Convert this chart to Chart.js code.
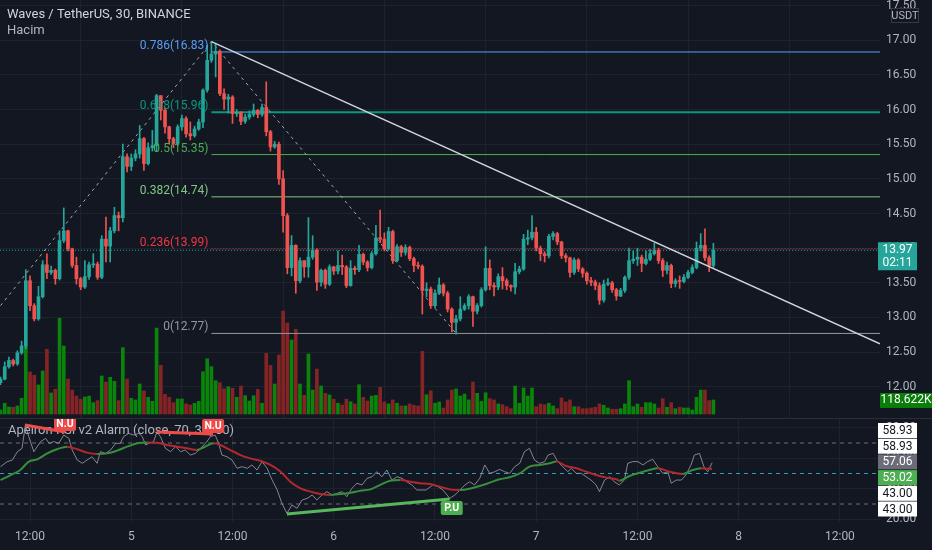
<!DOCTYPE html>
<html>
<head>
<meta charset="utf-8">
<script src="https://cdn.jsdelivr.net/npm/chart.js@4.4.0/dist/chart.umd.min.js"></script>
<style>
  html, body { margin: 0; padding: 0; background: #131722; }
  #wrap { position: relative; width: 932px; height: 550px; overflow: hidden; background: #131722; }
  #priceCanvas { position: absolute; left: 0; top: 0; }
  #rsiCanvas { position: absolute; left: 0; top: 418px; }
</style>
</head>
<body>
<div id="wrap">
  <canvas id="priceCanvas" width="932" height="418"></canvas>
  <canvas id="rsiCanvas" width="932" height="132"></canvas>
</div>
<script>
// 30 min candles, index 0 = 08:30 on the 4th
const firstOpen = 12.06;
const closes = [
  12.11,12.29,12.38,12.33,12.49,12.59,13.53,13.17,12.98,13.30,
  13.76,13.65,13.68,13.56,14.11,14.25,13.99,13.75,13.56,13.44,
  13.59,13.76,13.77,13.58,14.13,14.03,14.25,14.47,14.44,15.32,
  15.18,15.30,15.36,15.58,15.22,15.45,15.48,16.20,15.99,15.75,
  15.58,15.51,15.75,15.87,15.65,15.62,15.72,15.82,16.28,16.71,
  16.80,16.84,16.23,16.15,16.18,15.94,15.96,15.83,15.89,15.93,
  15.99,15.93,16.03,15.68,15.46,15.50,15.00,14.47,13.72,14.04,
  13.53,13.82,13.73,13.87,13.97,13.51,13.68,13.48,13.73,13.67,
  13.75,13.73,13.46,13.71,13.69,13.91,13.80,13.72,13.92,14.15,
  14.13,13.99,14.24,13.82,14.02,13.94,14.01,13.85,13.75,13.74,
  13.39,13.41,13.17,13.35,13.47,13.35,13.12,12.93,12.98,13.12,
  13.17,13.30,13.09,13.17,13.40,13.71,13.46,13.44,13.59,13.53,
  13.46,13.44,13.66,13.70,14.13,14.15,14.23,14.00,13.92,13.89,
  14.17,14.21,14.09,13.89,13.86,13.65,13.83,13.70,13.64,13.53,
  13.51,13.46,13.25,13.48,13.50,13.40,13.31,13.39,13.58,13.82,
  13.84,13.87,13.78,13.84,13.92,13.97,13.82,13.68,13.75,13.49,
  13.53,13.52,13.58,13.65,13.72,14.00,14.04,13.86,13.75,13.97
];
const highs = [
  12.14,12.36,12.43,12.40,12.52,12.66,13.69,13.60,13.20,13.45,
  13.82,13.92,13.74,13.70,14.25,14.58,14.26,14.00,13.87,13.58,
  13.82,13.80,13.92,13.80,14.18,14.45,14.30,14.59,14.52,15.50,
  15.36,15.36,15.42,15.77,15.60,15.52,15.70,16.22,16.20,16.02,
  15.76,15.60,15.78,15.92,15.90,15.82,15.76,15.86,16.30,16.93,
  16.98,16.95,16.86,16.30,16.22,16.20,16.00,15.97,15.93,15.98,
  16.08,16.00,16.08,16.40,15.70,15.54,15.53,15.12,14.50,14.18,
  14.05,13.86,13.80,14.44,14.18,13.99,13.70,13.70,13.76,13.74,
  13.96,13.90,13.75,13.82,13.74,14.04,13.93,13.82,13.95,14.33,
  14.55,14.22,14.30,14.26,14.05,14.04,14.05,14.03,13.87,13.80,
  13.76,13.50,13.44,13.40,13.57,13.49,13.38,13.14,13.03,13.30,
  13.20,13.33,13.31,13.20,13.43,14.02,13.83,13.50,13.63,13.72,
  13.56,13.47,13.78,13.74,14.20,14.26,14.47,14.30,14.03,13.95,
  14.20,14.24,14.23,14.10,13.92,13.87,13.86,13.85,13.72,13.66,
  13.58,13.54,13.50,13.54,13.56,13.52,13.42,13.42,13.60,14.00,
  13.96,14.00,13.90,13.96,13.98,14.07,14.00,13.85,13.80,13.77,
  13.56,13.60,13.62,13.68,13.76,14.09,14.21,14.28,13.89,14.07
];
const lows = [
  12.03,12.10,12.27,12.30,12.31,12.47,12.55,13.10,12.95,12.96,
  13.28,13.56,13.62,13.48,13.54,14.08,13.96,13.72,13.48,13.40,
  13.42,13.55,13.72,13.55,13.56,13.80,13.80,14.22,14.25,14.38,
  15.10,15.12,15.26,15.30,15.12,15.20,15.40,15.40,15.85,15.66,
  15.50,15.45,15.48,15.70,15.60,15.56,15.60,15.70,15.74,16.25,
  16.68,16.47,16.20,16.00,15.95,15.80,15.90,15.78,15.80,15.86,
  15.90,15.88,15.90,15.62,15.40,15.44,14.92,14.23,13.63,13.60,
  13.35,13.50,13.58,13.58,13.84,13.39,13.45,13.42,13.46,13.62,
  13.63,13.62,13.43,13.45,13.62,13.66,13.76,13.67,13.70,13.90,
  14.08,13.96,13.97,13.78,13.80,13.88,13.90,13.82,13.66,13.70,
  13.05,13.30,13.13,13.14,13.33,13.31,13.08,12.79,12.76,12.95,
  13.10,13.12,12.87,13.05,13.15,13.38,13.40,13.31,13.40,13.41,
  13.40,13.38,13.34,13.63,13.68,14.05,14.12,13.96,13.82,13.80,
  13.86,14.12,14.05,13.85,13.80,13.58,13.62,13.66,13.58,13.48,
  13.46,13.40,13.19,13.22,13.46,13.36,13.25,13.30,13.36,13.55,
  13.78,13.75,13.66,13.76,13.82,13.90,13.78,13.59,13.63,13.43,
  13.44,13.42,13.50,13.56,13.63,13.70,13.96,13.82,13.66,13.72
];
// volume in thousands
const volumes = [
  34,91,59,57,68,133,576,356,328,246,
  364,548,178,209,811,576,296,203,152,125,
  144,152,96,113,322,271,311,277,113,562,
  296,133,119,254,195,141,108,728,412,167,
  141,96,127,127,85,76,91,108,358,468,
  401,282,265,214,231,218,141,237,155,110,
  155,209,91,514,411,254,500,872,771,627,
  717,254,158,508,203,381,237,175,161,125,
  91,76,125,104,85,248,141,110,152,158,
  226,102,85,119,91,68,68,85,74,68,
  531,163,197,91,102,51,119,203,212,152,
  169,119,271,175,108,180,130,119,85,79,
  62,45,237,91,220,152,220,62,85,79,
  91,68,45,136,102,119,62,62,45,45,
  51,57,85,74,51,40,40,45,85,282,
  62,85,57,96,96,85,51,130,57,96,
  45,57,51,51,34,141,203,203,113,118.622
];

const xTickIdx = [7, 31, 55, 79, 103, 127, 151, 175, 199];
const xTickLabels = ['12:00', '5', '12:00', '6', '12:00', '7', '12:00', '8', '12:00'];
const priceTicks = [12, 12.5, 13, 13.5, 14, 14.5, 15, 15.5, 16, 16.5, 17, 17.5];
const rsiTicks = [20, 40, 60, 80];

// fibonacci retracement drawing
const fibStart = 50;
const fibLevels = [0.786, 0.618, 0.5, 0.382, 0.236, 0];
const fibPrices = [16.83, 15.96, 15.35, 14.74, 13.99, 12.77];
const fibColors = ['#5b9cf6', '#089981', '#4caf50', '#81c784', '#f23645', '#9598a1'];
const zigIdx = [0, 50, 108];
const zigPrice = [13.17, 16.98, 12.77];
// trend line
const trendIdx = [50, 208.5];
const trendPrice = [16.98, 12.62];

// RSI pane
const rsiIdx = [0,1.6,2.8,4,5.1,5.9,6.7,7.9,8.7,9.5,10.7,11.5,12.6,13.8,15,16.2,17,18.2,19.4,20.5,
  21.7,22.9,23.7,24.9,26.1,27.3,28.4,29.2,30.4,31.6,32.8,33.6,34.4,35.2,36.3,37.1,37.9,39.1,40.3,41.5,
  42.7,43.8,45,46.2,47.4,48.6,49.8,50.9,51.7,52.5,53.7,54.9,56.1,57.3,58.5,59.6,60.8,62,63.2,64.4,
  65.6,66.7,67.9,69.1,70.3,71.5,72.7,73.9,75,76.2,77.4,78.6,79.8,81,82.1,83.3,84.5,85.7,86.9,88.1,
  89.2,90.4,91.6,92.8,94,95.2,96.3,97.5,98.7,100.9,102.5,103.7,104.9,106.5,107.7,108.9,110.1,111.2,112.4,113.6,
  114.8,116,117.2,118.3,119.5,120.7,121.9,123.1,124.2,125.4,126.6,127.8,129,129.8,131,132.1,133.3,134.5,135.3,136.5,
  137.7,138.8,140,141.2,142,143.2,144.4,145.5,146.7,147.9,148.7,149.9,151.1,152.3,153.4,154.6,155.8,157,158.2,159,
  160.2,161.4,162.5,163.7,164.5,165.7,166.9,167.7,168.7];
const rsiVal = [54.5,57.8,58.8,64.3,66.5,81.8,74.2,64.3,67.6,70.9,73.1,69.8,70.9,69.8,75.2,73.1,65.4,58.8,56.7,58.8,
  61.0,56.7,64.3,63.2,65.4,69.8,69.8,74.2,76.3,75.2,76.3,74.2,68.7,69.8,70.9,77.4,74.2,66.5,64.3,67.6,
  64.3,65.4,62.1,63.2,66.5,69.8,74.2,75.2,69.8,62.1,61.0,58.8,53.4,54.5,53.4,55.6,52.3,57.8,53.4,45.7,
  39.2,30.4,23.9,29.3,27.2,32.6,33.7,35.9,32.6,35.9,38.1,35.9,37.0,38.1,34.8,40.3,43.6,42.5,46.8,47.9,
  51.2,47.9,52.3,45.7,47.9,46.8,44.6,42.5,39.2,39.2,42.5,41.4,39.2,33.7,35.9,39.2,42.5,44.6,42.5,46.8,
  55.6,50.1,51.2,52.7,51.2,50.1,54.5,56.7,64.3,66.5,58.8,56.7,57.8,62.1,63.2,57.8,54.5,51.2,53.4,50.1,
  50.1,47.9,45.7,42.5,38.1,45.7,47.9,44.6,42.5,45.7,56.7,57.8,57.8,55.6,57.8,59.3,54.5,50.1,51.2,43.6,
  45.7,45.7,49.0,55.6,62.1,63.2,53.4,51.2,57.1];
const maIdx = [0,2.4,4.7,6.7,8.7,11.1,13.4,15.8,18.2,20.5,22.9,25.3,27.6,30,32.4,34.8,37.1,39.5,41.9,44.2,
  46.6,48.2,50.6,52.1,54.5,56.9,59.2,61.6,64,66.4,68.7,71.1,73.5,75.8,78.2,80.6,83,85.3,87.7,90,
  92.4,94.8,97.2,99.4,101.8,104.2,106.5,108.9,111.2,113.6,116,118.3,120.7,123.1,125.4,127.8,130.2,131.8,134.1,136.5,
  138.8,141.2,143.6,146,146.7,149.1,151.5,153.8,155.8,158.6,161.7,164.1,166.1,167.3,168.7];
const maVal = [45.7,49.0,52.3,57.8,59.3,63.2,65.9,67.6,65.9,63.7,62.8,63.2,65.0,67.6,69.8,70.4,70.2,68.7,67.6,66.5,
  65.4,67.2,69.8,68.7,65.4,62.1,59.9,58.4,55.6,51.2,44.6,40.3,38.1,36.6,35.9,36.6,37.4,38.7,39.6,42.5,
  45.3,45.7,44.6,43.6,43.1,41.4,39.6,39.2,40.0,41.8,44.0,46.2,47.5,50.1,54.5,55.6,56.7,57.8,54.9,53.4,
  51.2,49.0,47.3,46.2,45.3,48.4,50.5,52.3,53.4,51.2,49.7,52.3,53.4,53.2,53.0];
const rsiLevels = [70, 50, 30];
// divergence lines [startIdx, startVal, endIdx, endVal]
const bearDiv1 = [5.8, 81.8, 15.3, 77.2];
const bearDiv2 = [37.1, 77.2, 50.4, 75.9];
const bullDiv = [67.9, 23.4, 106.5, 33.3];
const rsiAxisBadges = ['58.93', '58.93', '57.06', '53.02', '43.00', '43.00'];

const bg = '#131722';
const gridColor = '#1e222d';
const textColor = '#b2b5be';
const upColor = '#26a69a';
const downColor = '#ef5350';
const volUp = '#0a840a';
const volDown = '#842424';
const fontFamily = 'Roboto, "Noto Sans", sans-serif';
const xMin = -0.12, xMax = 208.5;

const opens = closes.map((c, i) => i === 0 ? firstOpen : closes[i - 1]);
const isUp = closes.map((c, i) => c >= opens[i]);
const bodyData = closes.map((c, i) => ({ x: i, y: [opens[i], c] }));
const wickData = closes.map((c, i) => ({ x: i, y: [Math.min(lows[i], opens[i], c), Math.max(highs[i], opens[i], c)] }));
const volData = volumes.map((v, i) => ({ x: i, y: v }));
const candleColors = isUp.map(u => u ? upColor : downColor);
const volColors = isUp.map(u => u ? volUp : volDown);

const pts = (xs, ys) => xs.map((x, i) => ({ x: x, y: ys[i] }));
const lineDs = (data, color, extra) => Object.assign({
  type: 'line', data: data, borderColor: color, borderWidth: 1,
  pointRadius: 0, yAxisID: 'y', tension: 0
}, extra || {});

const priceDatasets = [
  { type: 'bar', data: volData, backgroundColor: volColors, barThickness: 3, grouped: false, yAxisID: 'yv', order: 10 },
  lineDs([{ x: xMin, y: closes[closes.length - 1] }, { x: xMax, y: closes[closes.length - 1] }], upColor, { borderDash: [1, 2], order: 8 }),
  { type: 'bar', data: wickData, backgroundColor: candleColors, barThickness: 1, grouped: false, yAxisID: 'y', order: 2 },
  { type: 'bar', data: bodyData, backgroundColor: candleColors, barThickness: 3, minBarLength: 1, grouped: false, yAxisID: 'y', order: 1 },
  lineDs(pts(zigIdx, zigPrice), '#a3a6af', { borderDash: [3, 4], order: 3 }),
  lineDs(pts(trendIdx, trendPrice), '#d1d4dc', { borderWidth: 1.5, order: 0 })
];
fibPrices.forEach((p, k) => {
  priceDatasets.push(lineDs([{ x: fibStart, y: p }, { x: xMax, y: p }], fibColors[k], {
    borderWidth: k === 1 ? 2 : 1, borderDash: k === 4 ? [1, 2] : [], order: 7
  }));
});

const pricePanePlugin = {
  id: 'pricePane',
  afterDatasetsDraw(chart) {
    const ctx = chart.ctx, xs = chart.scales.x, ys = chart.scales.y;
    ctx.save();
    ctx.font = '12px ' + fontFamily;
    ctx.textAlign = 'right';
    ctx.textBaseline = 'middle';
    fibPrices.forEach((p, k) => {
      ctx.fillStyle = fibColors[k];
      ctx.fillText(fibLevels[k] + '(' + p.toFixed(2) + ')', xs.getPixelForValue(fibStart) - 3, ys.getPixelForValue(p) - 6);
    });
    ctx.textAlign = 'left';
    ctx.font = '13px ' + fontFamily;
    ctx.fillStyle = '#d1d4dc';
    ctx.fillText('Waves / TetherUS, 30, BINANCE', 7, 15);
    ctx.fillStyle = textColor;
    ctx.fillText('Hacim', 7, 31);
    ctx.restore();
  },
  afterDraw(chart) {
    const ctx = chart.ctx, ys = chart.scales.y, yv = chart.scales.yv;
    ctx.save();
    ctx.textAlign = 'center';
    ctx.textBaseline = 'middle';
    // last price badge
    const last = closes[closes.length - 1];
    const py = ys.getPixelForValue(last);
    ctx.fillStyle = upColor;
    ctx.fillRect(878, py - 8, 39, 28);
    ctx.fillStyle = '#ffffff';
    ctx.font = '12px ' + fontFamily;
    ctx.fillText(last.toFixed(2), 897.5, py);
    ctx.fillText('02:11', 897.5, py + 13);
    // last volume badge
    const lv = volumes[volumes.length - 1];
    const vy = yv.getPixelForValue(lv);
    ctx.fillStyle = '#0a7d0a';
    ctx.fillRect(880, vy - 7, 52, 15);
    ctx.fillStyle = '#ffffff';
    ctx.fillText(lv.toFixed(3) + 'K', 906, vy + 0.5);
    // currency box
    ctx.fillStyle = bg;
    ctx.fillRect(891, 8, 28, 15);
    ctx.strokeStyle = '#363a45';
    ctx.lineWidth = 1;
    ctx.strokeRect(891.5, 8.5, 27, 14);
    ctx.fillStyle = textColor;
    ctx.font = '11px ' + fontFamily;
    ctx.fillText('USDT', 905, 16);
    ctx.restore();
  }
};

const tickSetter = list => scale => { scale.ticks = list.map(v => ({ value: v })); };
// fixed axis sizes, no label padding so both panes line up
const fitY = s => { s.width = 52; s.paddingTop = 0; s.paddingBottom = 0; };
const fitX = h => s => { s.height = h; s.paddingLeft = 0; s.paddingRight = 0; };

new Chart(document.getElementById('priceCanvas'), {
  type: 'bar',
  data: { datasets: priceDatasets },
  options: {
    responsive: false,
    animation: false,
    events: [],
    layout: { padding: 0, autoPadding: false },
    plugins: { legend: { display: false }, tooltip: { enabled: false } },
    scales: {
      x: {
        type: 'linear', min: xMin, max: xMax, offset: false,
        afterBuildTicks: tickSetter(xTickIdx),
        ticks: { display: false },
        grid: { color: gridColor, drawTicks: false },
        border: { display: false },
        afterFit: fitX(0)
      },
      y: {
        type: 'linear', position: 'right', min: 11.55, max: 17.58,
        afterBuildTicks: tickSetter(priceTicks),
        ticks: { color: textColor, font: { family: fontFamily, size: 12 }, padding: 6, callback: v => v.toFixed(2) },
        grid: { color: gridColor, drawTicks: false },
        border: { display: false },
        afterFit: fitY
      },
      yv: { type: 'linear', display: false, min: -34, max: 3507 }
    }
  },
  plugins: [pricePanePlugin]
});

// ---------- RSI pane ----------
const rsiDatasets = [];
rsiLevels.forEach(l => {
  rsiDatasets.push(lineDs([{ x: xMin, y: l }, { x: xMax, y: l }], l === 50 ? '#2a9fc0' : '#6a6d78',
    { borderDash: [4, 4], order: 9 }));
});
rsiDatasets.push(lineDs(pts(rsiIdx, rsiVal), 'rgba(150,153,162,0.85)', { order: 4 }));
rsiDatasets.push(lineDs(pts(maIdx, maVal), '#388e3c', {
  borderWidth: 2, cubicInterpolationMode: 'monotone', order: 3,
  segment: { borderColor: c => c.p1.parsed.y >= c.p0.parsed.y ? '#388e3c' : '#b2282e' }
}));
[bearDiv1, bearDiv2].forEach(d => {
  rsiDatasets.push(lineDs([{ x: d[0], y: d[1] }, { x: d[2], y: d[3] }], '#f04b4b', { borderWidth: 3, order: 1 }));
});
rsiDatasets.push(lineDs([{ x: bullDiv[0], y: bullDiv[1] }, { x: bullDiv[2], y: bullDiv[3] }], '#57b85b', { borderWidth: 3, order: 1 }));

function badge(ctx, text, cx, cy, w, h, fill, color) {
  ctx.fillStyle = fill;
  ctx.beginPath();
  ctx.roundRect(cx - w / 2, cy - h / 2, w, h, 2);
  ctx.fill();
  ctx.fillStyle = color;
  ctx.fillText(text, cx, cy + 0.5);
}

const rsiPanePlugin = {
  id: 'rsiPane',
  beforeDatasetsDraw(chart) {
    const ctx = chart.ctx;
    ctx.save();
    ctx.font = '13px ' + fontFamily;
    ctx.fillStyle = textColor;
    ctx.textBaseline = 'middle';
    ctx.fillText('Apeiron RSI v2 Alarm (close, 70, 30, 50)', 8, 13);
    ctx.restore();
  },
  afterDatasetsDraw(chart) {
    const ctx = chart.ctx, xs = chart.scales.x, ys = chart.scales.yr;
    ctx.save();
    ctx.font = 'bold 10.5px ' + fontFamily;
    ctx.textAlign = 'center';
    ctx.textBaseline = 'middle';
    [bearDiv1, bearDiv2].forEach(d => {
      badge(ctx, 'N.U', xs.getPixelForValue(d[2]), ys.getPixelForValue(d[3]) - 8, 22, 14, '#f04b4b', '#ffffff');
    });
    badge(ctx, 'P.U', xs.getPixelForValue(bullDiv[2]) + 2, ys.getPixelForValue(bullDiv[3]) + 9, 22, 14, '#4caf50', '#ffffff');
    ctx.restore();
  },
  afterDraw(chart) {
    const ctx = chart.ctx;
    ctx.save();
    ctx.fillStyle = '#2a2e39';
    ctx.fillRect(0, 0, 932, 1);
    ctx.font = '12px ' + fontFamily;
    ctx.textAlign = 'center';
    ctx.textBaseline = 'middle';
    const styles = [['#ffffff', '#131722'], ['#ffffff', '#131722'], ['#6a6d78', '#ffffff'],
      ['#4caf50', '#ffffff'], ['#ffffff', '#131722'], ['#ffffff', '#131722']];
    rsiAxisBadges.forEach((t, k) => {
      const top = 5 + k * 15.7;
      ctx.fillStyle = styles[k][0];
      ctx.fillRect(878, top, 39, 15);
      ctx.fillStyle = styles[k][1];
      ctx.fillText(t, 897.5, top + 8);
    });
    ctx.restore();
  }
};

new Chart(document.getElementById('rsiCanvas'), {
  type: 'line',
  data: { datasets: rsiDatasets },
  options: {
    responsive: false,
    animation: false,
    events: [],
    layout: { padding: 0, autoPadding: false },
    plugins: { legend: { display: false }, tooltip: { enabled: false } },
    scales: {
      x: {
        type: 'linear', min: xMin, max: xMax,
        afterBuildTicks: tickSetter(xTickIdx),
        ticks: { color: textColor, font: { family: fontFamily, size: 12 }, padding: 8, maxRotation: 0,
          callback: (v, i) => xTickLabels[i] },
        grid: { color: gridColor, drawTicks: false },
        border: { display: false },
        afterFit: fitX(28)
      },
      yr: {
        type: 'linear', position: 'right', min: 18.2, max: 86.4,
        afterBuildTicks: tickSetter(rsiTicks),
        ticks: { color: textColor, font: { family: fontFamily, size: 12 }, padding: 6, callback: v => v.toFixed(2) },
        grid: { color: gridColor, drawTicks: false },
        border: { display: false },
        afterFit: fitY
      },
      y: { display: false, min: 18.2, max: 86.4 }
    }
  },
  plugins: [rsiPanePlugin]
});
</script>
</body>
</html>
